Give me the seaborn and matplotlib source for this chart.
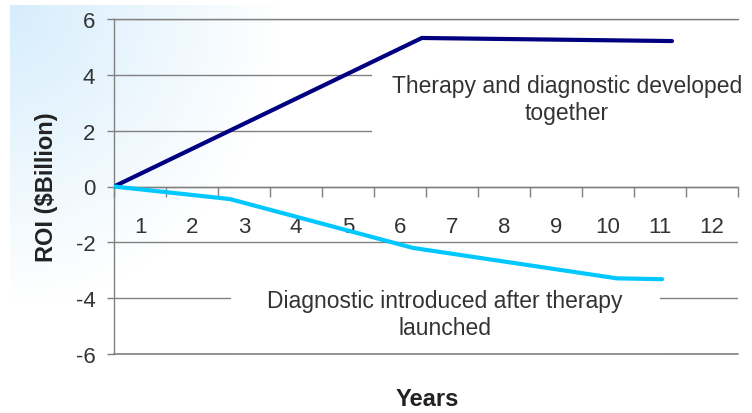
import numpy as np
import pandas as pd
import matplotlib
matplotlib.use("Agg")
import matplotlib.pyplot as plt
import seaborn as sns

# ---- data ----
year_labels = ["1", "2", "3", "4", "5", "6", "7", "8", "9", "10", "11", "12"]
y_ticks = [-6, -4, -2, 0, 2, 4, 6]

together_x = [0.0, 5.92, 10.73]
together_roi = [0.0, 5.32, 5.21]

after_x = [0.0, 2.23, 5.75, 9.67, 10.54]
after_roi = [0.0, -0.45, -2.20, -3.29, -3.32]

label_together = "Therapy and diagnostic developed\ntogether"
label_after = "Diagnostic introduced after therapy\nlaunched"

df_together = pd.DataFrame({"x": together_x, "roi": together_roi})
df_after = pd.DataFrame({"x": after_x, "roi": after_roi})

sns.set_theme(style="white")
plt.rcParams["font.family"] = ["Liberation Sans", "DejaVu Sans"]

W, H = 752, 414
fig = plt.figure(figsize=(W / 100, H / 100), dpi=100)

# background gradient (top-left light blue fading to white)
bg = fig.add_axes([10 / W, 0, 1 - 10 / W, 1 - 6 / H], zorder=-10)
ny, nx = 408, 742
yy, xx = np.mgrid[0:ny, 0:nx]
a = np.clip(1 - np.sqrt((xx / 270.0) ** 2 + (yy / 300.0) ** 2), 0, 1)
img = np.zeros((ny, nx, 4))
img[..., 0] = 0.84
img[..., 1] = 0.93
img[..., 2] = 0.99
img[..., 3] = a
bg.imshow(img, aspect="auto", interpolation="bilinear")
bg.axis("off")

ax = fig.add_axes([114 / W, 59 / H, 624 / W, 335 / H])
ax.patch.set_alpha(0)

grid_c = "#808080"
txt_c = "#333333"
sns.lineplot(data=df_together, x="x", y="roi", sort=False, color="#000080",
             lw=3.0, ax=ax, zorder=6)
sns.lineplot(data=df_after, x="x", y="roi", sort=False, color="#00c8ff",
             lw=3.0, ax=ax, zorder=6)

ax.set_xlim(0, 12)
ax.set_ylim(-6, 6)

# y axis
ax.set_yticks(y_ticks)
ax.set_yticklabels([str(v) for v in y_ticks])
ax.tick_params(axis="y", which="major", direction="out", length=5, width=1,
               color=grid_c, labelsize=16, pad=8.5, labelcolor=txt_c, left=True)
ax.yaxis.grid(True, color=grid_c, lw=1)
ax.set_axisbelow(True)

# x axis at y = 0, category labels between ticks
ax.spines["bottom"].set_position(("data", 0))
ax.set_xticks(np.arange(0, 13))
ax.set_xticklabels([])
ax.set_xticks(np.arange(len(year_labels)) + 0.5, minor=True)
ax.set_xticklabels(year_labels, minor=True)
ax.tick_params(axis="x", which="major", direction="out", length=7, width=1,
               color=grid_c, bottom=True)
ax.tick_params(axis="x", which="minor", length=0, labelsize=16, pad=21,
               labelcolor=txt_c)

for s in ["left", "bottom", "top"]:
    ax.spines[s].set_color(grid_c)
    ax.spines[s].set_linewidth(1)
ax.spines["right"].set_visible(False)
ax.axhline(-6, color=grid_c, lw=1.2, zorder=5, clip_on=False)

ax.set_xlabel("Years", fontsize=17, fontweight="bold", color="#222222")
ax.set_ylabel("ROI ($Billion)", fontsize=17, fontweight="bold", color="#222222")
ax.xaxis.set_label_coords(0.502, -0.098)
ax.yaxis.set_label_coords(-0.0897, 0.50)

ax.text(8.71, 3.14, label_together, ha="center", va="center", fontsize=16.5,
        color=txt_c, linespacing=1.2, zorder=3,
        bbox=dict(boxstyle="square,pad=0.85", fc="white", ec="none"))
ax.text(6.37, -4.57, label_after, ha="center", va="center", fontsize=16.5,
        color=txt_c, linespacing=1.2, zorder=3,
        bbox=dict(boxstyle="square,pad=1.6", fc="white", ec="none"))

fig.savefig("out.png", dpi=100)
